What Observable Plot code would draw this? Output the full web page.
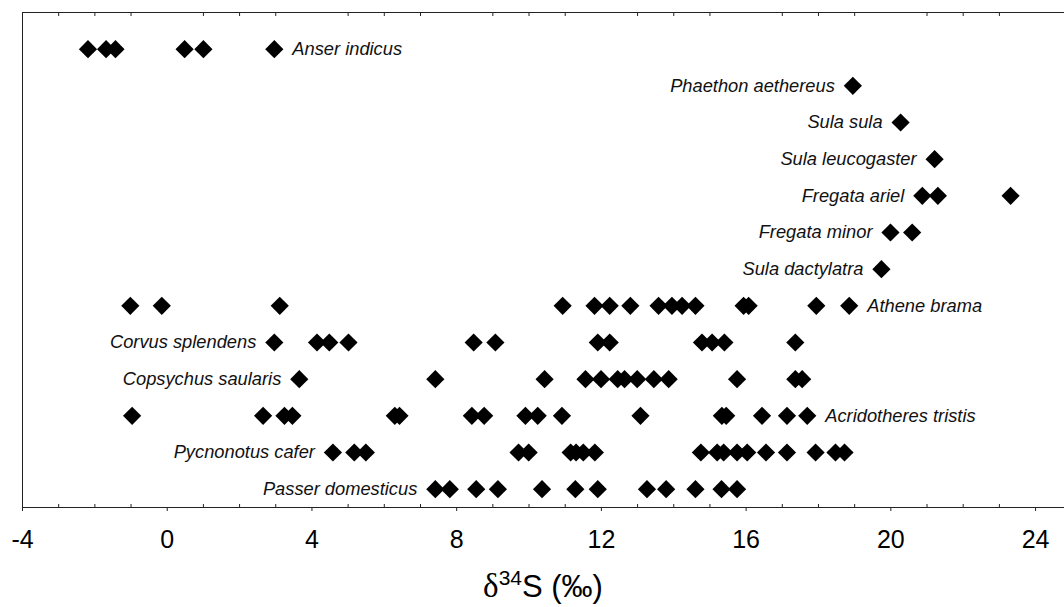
<!DOCTYPE html>
<html><head><meta charset="utf-8">
<script src="https://cdn.jsdelivr.net/npm/d3@7"></script>
<script src="https://cdn.jsdelivr.net/npm/@observablehq/plot@0.6"></script>
<style>
body{margin:0;background:#fff;font-family:"Liberation Sans",Arial,sans-serif;}
#chart{width:1064px;height:555px;}
#xlabel{width:1064px;height:52px;box-sizing:border-box;padding-left:22px;padding-top:9px;text-align:center;font-size:31px;line-height:44px;color:#000;font-family:"Liberation Sans",Arial,sans-serif;white-space:nowrap;overflow:hidden;}
#xlabel .delta{font-family:"Liberation Serif","DejaVu Serif",serif;font-size:33px;}
#xlabel sup{font-size:21px;vertical-align:12px;line-height:0;}
</style></head><body>
<div id="chart"></div>
<div id="xlabel"><span class="delta">δ</span><sup>34</sup>S (‰)</div>
<script>
// species, top row to bottom row
const species = [
  "Anser indicus", "Phaethon aethereus", "Sula sula", "Sula leucogaster",
  "Fregata ariel", "Fregata minor", "Sula dactylatra", "Athene brama",
  "Corvus splendens", "Copsychus saularis", "Acridotheres tristis",
  "Pycnonotus cafer", "Passer domesticus"
];
const rightLabeled = ["Anser indicus", "Athene brama", "Acridotheres tristis"];

const anserIndicus = [-2.19, -1.69, -1.43, 0.48, 1.00, 2.96];
const phaethonAethereus = [18.95];
const sulaSula = [20.27];
const sulaLeucogaster = [21.21];
const fregataAriel = [20.87, 21.30, 23.31];
const fregataMinor = [19.99, 20.59];
const sulaDactylatra = [19.74];
const atheneBrama = [-1.02, -0.15, 3.11, 10.93, 11.81, 12.23, 12.80, 13.58, 13.95, 14.23, 14.60, 15.93, 16.07, 17.94, 18.85];
const corvusSplendens = [2.96, 4.14, 4.48, 5.01, 8.47, 9.07, 11.90, 12.23, 14.78, 15.06, 15.40, 17.36];
const copsychusSaularis = [3.65, 7.41, 10.43, 11.56, 11.99, 12.45, 12.64, 12.99, 13.45, 13.86, 15.75, 17.36, 17.55];
const acridotheresTristis = [-0.97, 2.65, 3.24, 3.46, 6.29, 6.42, 8.42, 8.76, 9.90, 10.24, 10.91, 13.08, 15.33, 15.45, 16.44, 17.13, 17.69];
const pycnonotusCafer = [4.58, 5.17, 5.49, 9.71, 9.99, 11.15, 11.30, 11.50, 11.82, 14.75, 15.20, 15.38, 15.75, 16.03, 16.55, 17.13, 17.92, 18.47, 18.72];
const passerDomesticus = [7.41, 7.81, 8.54, 9.14, 10.36, 11.28, 11.90, 13.26, 13.79, 14.60, 15.32, 15.75];

const majorTicks = [-4, 0, 4, 8, 12, 16, 20, 24];
const minorTicks = [-3, -2, -1, 1, 2, 3, 5, 6, 7, 9, 10, 11, 13, 14, 15, 17, 18, 19, 21, 22, 23];

const seriesValues = [
  anserIndicus, phaethonAethereus, sulaSula, sulaLeucogaster, fregataAriel,
  fregataMinor, sulaDactylatra, atheneBrama, corvusSplendens, copsychusSaularis,
  acridotheresTristis, pycnonotusCafer, passerDomesticus
];

const n = species.length;
const points = species.flatMap((s, i) => seriesValues[i].map(v => ({species: s, row: n - i, value: v})));
const labels = species.map((s, i) => {
  const right = rightLabeled.includes(s);
  return {species: s, row: n - i, value: right ? d3.max(seriesValues[i]) : d3.min(seriesValues[i]), right};
});

const font = "Liberation Sans, Arial, sans-serif";

const chart = Plot.plot({
  width: 1064,
  height: 555,
  marginTop: 12,
  marginBottom: 48,
  marginLeft: 22,
  marginRight: 0,
  style: {fontFamily: font, background: "#fff", color: "#000", overflow: "visible"},
  x: {domain: [-4, 24.8]},
  y: {domain: [0.5, 14], axis: null},
  marks: [
    Plot.ruleY([0.5], {stroke: "#222", strokeWidth: 1}),
    Plot.ruleY([14], {stroke: "#222", strokeWidth: 1}),
    Plot.ruleX([-4], {stroke: "#222", strokeWidth: 1}),
    Plot.axisX(majorTicks, {anchor: "bottom", tickSize: 4, tickPadding: 19, fontSize: 25, label: null, tickFormat: d => String(d), stroke: "#222", fill: "#000"}),
    Plot.axisX(minorTicks, {anchor: "bottom", tickSize: -3, tickPadding: 0, label: null, tickFormat: () => "", stroke: "#222"}),
    Plot.axisX(minorTicks, {anchor: "top", tickSize: -3, tickPadding: 0, label: null, tickFormat: () => "", stroke: "#222"}),
    Plot.dot(points, {x: "value", y: "row", symbol: "diamond2", r: 8.2, fill: "#000", stroke: "none"}),
    Plot.text(labels.filter(d => !d.right), {x: "value", y: "row", text: "species", textAnchor: "end", dx: -18, fontSize: 18.3, fontStyle: "italic", fill: "#111"}),
    Plot.text(labels.filter(d => d.right), {x: "value", y: "row", text: "species", textAnchor: "start", dx: 18, fontSize: 18.3, fontStyle: "italic", fill: "#111"})
  ]
});
document.getElementById("chart").appendChild(chart);
</script>
</body></html>
